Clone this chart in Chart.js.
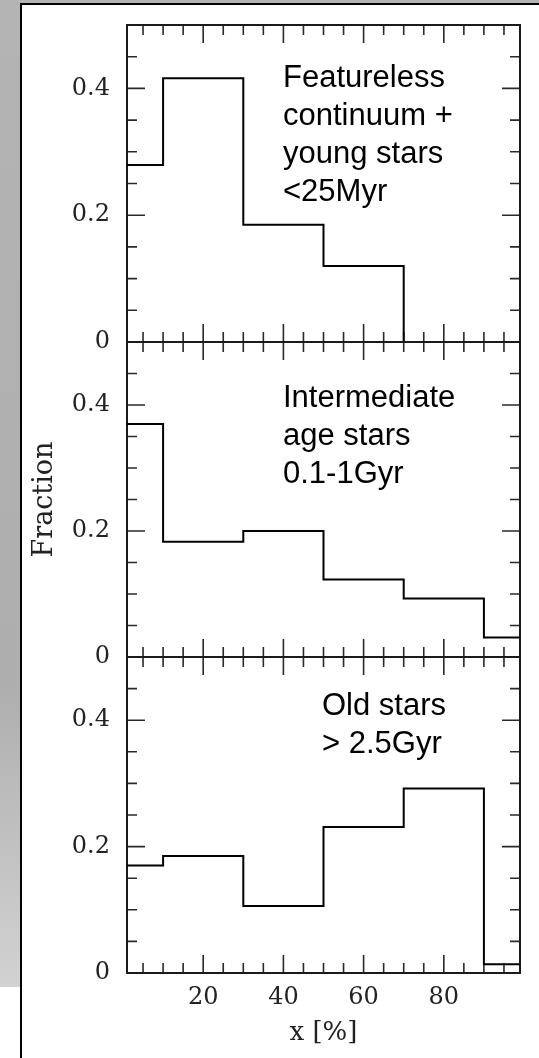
<!DOCTYPE html>
<html>
<head>
<meta charset="utf-8">
<script src="https://cdn.jsdelivr.net/npm/chart.js@4"></script>
<style>
    html, body { margin: 0; padding: 0; background: #fff; }
    body { width: 539px; height: 1058px; position: relative; overflow: hidden; }
    #bgTop { position: absolute; left: 0; top: 0; width: 539px; height: 3px; background: #b4b4b4; }
    #bgLeft { position: absolute; left: 0; top: 0; width: 20px; height: 987px;
        background: linear-gradient(to bottom, #b4b4b4 0px, #aeaeae 680px, #d2d2d2 987px); }
    #sheet { position: absolute; left: 20px; top: 3px; width: 519px; height: 1055px; box-sizing: border-box;
        border-left: 2px solid #000; border-top: 2px solid #000; background: #fff; }
    canvas { position: absolute; left: 0; }
</style>
</head>
<body>
<div id="bgTop"></div>
<div id="bgLeft"></div>
<div id="sheet"></div>
<canvas id="panelYoung" width="539" height="360" style="top:0px"></canvas>
<canvas id="panelInter" width="539" height="345" style="top:330px"></canvas>
<canvas id="panelOld" width="539" height="413" style="top:645px"></canvas>
<script>
// histogram bins (x in %) and fractions per panel
const binEdges = [0, 10, 30, 50, 70, 90, 100];
const youngFraction = [0.279, 0.416, 0.185, 0.120, 0, 0];
const intermediateFraction = [0.370, 0.183, 0.200, 0.123, 0.093, 0.031];
const oldFraction = [0.170, 0.185, 0.106, 0.231, 0.292, 0.014];

const youngNote = ["Featureless", "continuum +", "young stars", "<25Myr"];
const intermediateNote = ["Intermediate", "age stars", "0.1-1Gyr"];
const oldNote = ["Old stars", "> 2.5Gyr"];

const xTicks = [5, 10, 15, 20, 25, 30, 35, 40, 45, 50, 55, 60, 65, 70, 75, 80, 85, 90, 95];
const xLabelTicks = [20, 40, 60, 80];
const yTicks = [0, 0.05, 0.1, 0.15, 0.2, 0.25, 0.3, 0.35, 0.4, 0.45, 0.5];
const yLabelTicks = [0, 0.2, 0.4];
const xTitle = "x [%]";
const yTitle = "Fraction";

const tickFont = { family: '"DejaVu Serif", serif', size: 24 };

// frame plus inward tick marks on all four sides
const axisFrame = {
    id: "axisFrame",
    beforeDatasetsDraw(chart) {
        const { ctx, chartArea: a, scales: { x, y } } = chart;
        ctx.save();
        ctx.strokeStyle = "#2a2a2a";
        ctx.lineWidth = 1.6;
        ctx.beginPath();
        xTicks.forEach(v => {
            const px = x.getPixelForValue(v);
            const len = xLabelTicks.includes(v) ? 18 : 10;
            ctx.moveTo(px, a.bottom); ctx.lineTo(px, a.bottom - len);
            ctx.moveTo(px, a.top); ctx.lineTo(px, a.top + len);
        });
        yTicks.forEach(v => {
            if (v <= y.min || v >= y.max) return;
            const py = y.getPixelForValue(v);
            const len = yLabelTicks.includes(v) ? 18 : 10;
            ctx.moveTo(a.left, py); ctx.lineTo(a.left + len, py);
            ctx.moveTo(a.right, py); ctx.lineTo(a.right - len, py);
        });
        ctx.stroke();
        ctx.lineWidth = 2;
        ctx.strokeStyle = "#1a1a1a";
        ctx.strokeRect(a.left, a.top, a.right - a.left, a.bottom - a.top);
        ctx.restore();
    }
};

const panelNote = {
    id: "panelNote",
    afterDraw(chart, args, opts) {
        if (!opts.lines) return;
        const { ctx, chartArea: a } = chart;
        ctx.save();
        ctx.font = '31px "Liberation Sans", Arial, sans-serif';
        ctx.fillStyle = "#000";
        ctx.textBaseline = "alphabetic";
        opts.lines.forEach((t, i) => ctx.fillText(t, a.left + opts.dx, a.top + opts.dy + i * 38));
        ctx.restore();
    }
};

function makePanel(id, values, note, cfg) {
    const points = binEdges.map((e, i) => ({ x: e, y: values[Math.min(i, values.length - 1)] }));
    return new Chart(document.getElementById(id), {
        type: "line",
        data: {
            datasets: [{
                data: points,
                stepped: true,
                borderColor: "#000",
                borderWidth: 2,
                pointRadius: 0,
                fill: false
            }]
        },
        options: {
            responsive: false,
            animation: false,
            events: [],
            layout: { padding: { left: 0, right: 19, top: cfg.padTop, bottom: cfg.padBottom } },
            scales: {
                x: {
                    type: "linear",
                    min: 1,
                    max: 99,
                    display: cfg.showX,
                    grid: { display: false, drawTicks: false },
                    border: { display: false },
                    afterBuildTicks: s => { s.ticks = xTicks.map(value => ({ value })); },
                    afterFit: s => {
                        s.height = cfg.showX ? 85 : 0;
                        s.paddingLeft = 0; s.paddingRight = 0;
                    },
                    ticks: {
                        autoSkip: false,
                        maxRotation: 0,
                        padding: 10,
                        color: "#222",
                        font: tickFont,
                        callback: v => xLabelTicks.includes(v) ? String(v) : ""
                    },
                    title: {
                        display: true,
                        text: xTitle,
                        color: "#222",
                        font: { family: '"DejaVu Serif", serif', size: 26 },
                        padding: { top: 0, bottom: 9 }
                    }
                },
                y: {
                    min: 0,
                    max: 0.5,
                    grid: { display: false, drawTicks: false },
                    border: { display: false },
                    afterBuildTicks: s => { s.ticks = yTicks.map(value => ({ value })); },
                    afterFit: s => {
                        s.width = 127;
                        s.paddingTop = 0; s.paddingBottom = 0;
                    },
                    ticks: {
                        autoSkip: false,
                        padding: 17,
                        color: "#222",
                        font: tickFont,
                        callback: v => yLabelTicks.includes(v) ? (v === 0 ? "0" : v.toFixed(1)) : ""
                    },
                    title: {
                        display: cfg.showYTitle,
                        text: yTitle,
                        color: "#222",
                        font: { family: '"DejaVu Serif", serif', size: 27 },
                        padding: { top: 29, bottom: 0 }
                    }
                }
            },
            plugins: {
                legend: { display: false },
                tooltip: { enabled: false },
                panelNote: { lines: note, dx: cfg.noteX, dy: cfg.noteY }
            }
        },
        plugins: [axisFrame, panelNote]
    });
}

makePanel("panelYoung", youngFraction, youngNote,
    { padTop: 25, padBottom: 18, showX: false, showYTitle: false, noteX: 156, noteY: 62 });
makePanel("panelInter", intermediateFraction, intermediateNote,
    { padTop: 12, padBottom: 18, showX: false, showYTitle: true, noteX: 156, noteY: 65 });
makePanel("panelOld", oldFraction, oldNote,
    { padTop: 12, padBottom: 0, showX: true, showYTitle: false, noteX: 195, noteY: 58 });
</script>
</body>
</html>
